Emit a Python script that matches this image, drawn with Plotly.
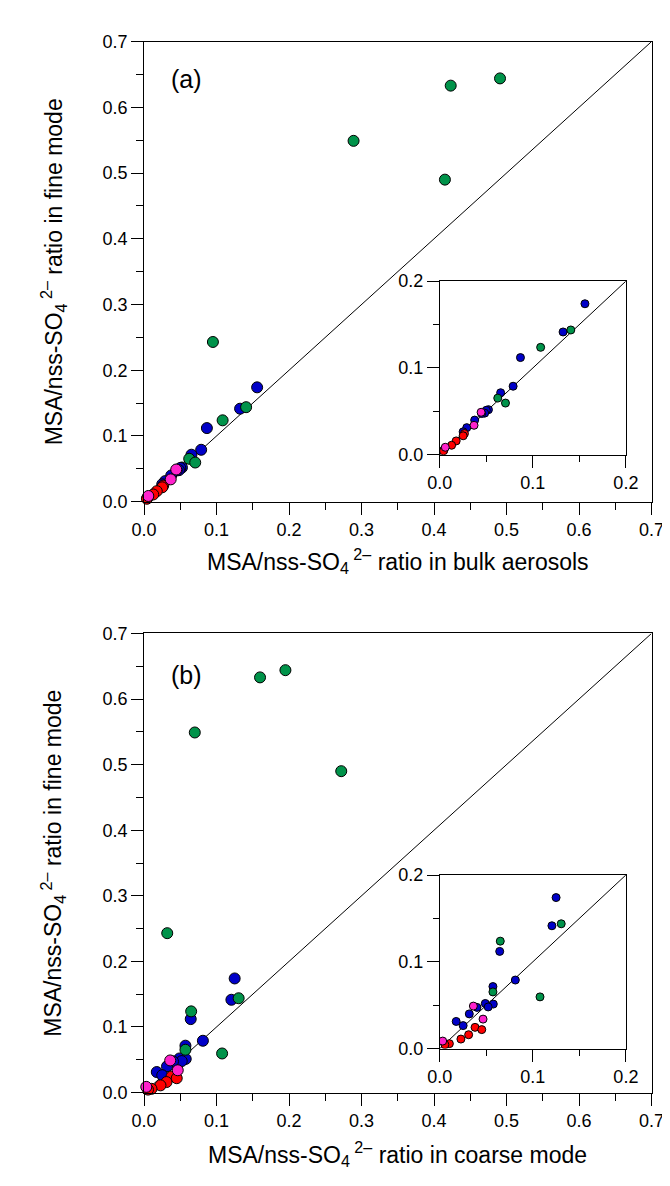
import plotly.graph_objects as go

# ---------------- data (fine-mode ratio shared; bulk -> panel a, coarse -> panel b)
blue_fine   = [0.174, 0.1415, 0.112, 0.079, 0.0715, 0.052, 0.0513, 0.048, 0.0475, 0.040, 0.0313, 0.0265]
blue_bulk   = [0.156, 0.1325, 0.0867, 0.0788, 0.0654, 0.0523, 0.050, 0.0482, 0.045, 0.0375, 0.029, 0.0251]
blue_coarse = [0.125, 0.1205, 0.0644, 0.0812, 0.0571, 0.0489, 0.0575, 0.052, 0.040, 0.0317, 0.0176, 0.0251]

green_fine   = [0.644, 0.633, 0.549, 0.490, 0.243, 0.1438, 0.1238, 0.0653, 0.0596]
green_bulk   = [0.491, 0.423, 0.289, 0.415, 0.095, 0.1408, 0.1084, 0.0623, 0.0706]
green_coarse = [0.195, 0.160, 0.070, 0.272, 0.032, 0.1305, 0.065, 0.0571, 0.1077]

red_fine   = [0.0245, 0.0219, 0.016, 0.011, 0.0057, 0.0045]
red_bulk   = [0.0265, 0.0251, 0.0176, 0.0127, 0.0045, 0.004]
red_coarse = [0.0379, 0.0451, 0.031, 0.0227, 0.0103, 0.0055]

mag_fine   = [0.049, 0.034, 0.0087]
mag_bulk   = [0.0444, 0.0368, 0.0059]
mag_coarse = [0.0361, 0.0465, 0.0031]

main_range = [0, 0.7]
inset_range = [0, 0.2]
tick_labels_main = ["0.0", "0.1", "0.2", "0.3", "0.4", "0.5", "0.6", "0.7"]
tick_labels_inset = ["0.0", "0.1", "0.2"]
panel_labels = ["(a)", "(b)"]
title_y = "MSA/nss-SO<sub>4</sub><sup> 2\u2013</sup> ratio in fine mode"
title_xa = "MSA/nss-SO<sub>4</sub><sup> 2\u2013</sup> ratio in bulk aerosols"
title_xb = "MSA/nss-SO<sub>4</sub><sup> 2\u2013</sup> ratio in coarse mode"

# ---------------- styling
W, H = 670, 1186
FONT = "Arial, Liberation Sans, sans-serif"
colors = {"blue": "#0000C8", "green": "#00934A", "red": "#FF0000", "mag": "#FF22CC"}
groups = [
    ("blue", blue_fine, blue_bulk, blue_coarse),
    ("green", green_fine, green_bulk, green_coarse),
    ("red", red_fine, red_bulk, red_coarse),
    ("mag", mag_fine, mag_bulk, mag_coarse),
]

def px_x(a, b):
    return [a / W, b / W]

def px_y(top, bottom):
    return [1 - bottom / H, 1 - top / H]

main_x = px_x(128, 656)
inset_x = px_x(435.7, 629.3)
dom = {
    1: (main_x, px_y(24, 492)),
    2: (inset_x, px_y(267.7, 444.3)),
    3: (main_x, px_y(626, 1093)),
    4: (inset_x, px_y(871.7, 1048.3)),
}

fig = go.Figure()

def add_panel(n, xi, rng, msize):
    xs = "x" if n == 1 else f"x{n}"
    ys = "y" if n == 1 else f"y{n}"
    fig.add_trace(go.Scatter(x=rng, y=rng, mode="lines", xaxis=xs, yaxis=ys,
                             line=dict(color="black", width=1), showlegend=False,
                             hoverinfo="skip"))
    for name, fine, bulk, coarse in groups:
        xv = bulk if xi == 0 else coarse
        fig.add_trace(go.Scatter(x=xv, y=fine, mode="markers", xaxis=xs, yaxis=ys,
                                 marker=dict(size=msize, color=colors[name],
                                             line=dict(color="black", width=1)),
                                 cliponaxis=(n in (2, 4)), showlegend=False))

add_panel(1, 0, main_range, 11)
add_panel(2, 0, inset_range, 8)
add_panel(3, 1, main_range, 11)
add_panel(4, 1, inset_range, 8)

def axis(n, main):
    rng = main_range if main else inset_range
    labels = tick_labels_main if main else tick_labels_inset
    vals = [round(0.1 * i, 1) for i in range(len(labels))]
    return dict(
        domain=None, range=rng, showgrid=False, zeroline=False,
        showline=True, linecolor="black", linewidth=1, mirror=True,
        ticks="outside", ticklen=12, tickwidth=1, tickcolor="black",
        tickmode="array", tickvals=vals, ticktext=labels,
        tickfont=dict(family=FONT, size=18, color="black"),
        minor=dict(ticks="outside", ticklen=6 if not main else 7, tickwidth=1,
                   tickcolor="black", dtick=0.05, tick0=0, showgrid=False),
        fixedrange=True,
    )

lay = {}
for n, main in [(1, True), (2, False), (3, True), (4, False)]:
    xa = axis(n, main); ya = axis(n, main)
    xa["domain"] = dom[n][0]; ya["domain"] = dom[n][1]
    xa["anchor"] = "y" if n == 1 else f"y{n}"
    ya["anchor"] = "x" if n == 1 else f"x{n}"
    lay["xaxis" if n == 1 else f"xaxis{n}"] = xa
    lay["yaxis" if n == 1 else f"yaxis{n}"] = ya

fig.update_layout(**lay)

ann_font = dict(family=FONT, size=23, color="black")
annotations = [
    dict(text=title_y, x=33 / W, y=1 - 258 / H, textangle=-90),
    dict(text=title_y, x=33 / W, y=1 - 859.5 / H, textangle=-90),
    dict(text=title_xa, x=392 / W, y=1 - 552 / H),
    dict(text=title_xb, x=392 / W, y=1 - 1155 / H),
    dict(text=panel_labels[0], x=172 / W, y=1 - 62 / H, font=dict(family=FONT, size=25, color="black")),
    dict(text=panel_labels[1], x=172 / W, y=1 - 668 / H, font=dict(family=FONT, size=25, color="black")),
]
for a in annotations:
    a.setdefault("font", ann_font)
    a.update(xref="paper", yref="paper", showarrow=False, xanchor="center", yanchor="middle")

fig.update_layout(
    width=W, height=H, margin=dict(l=0, r=0, t=0, b=0),
    paper_bgcolor="white", plot_bgcolor="white",
    annotations=annotations, showlegend=False,
)

fig.write_html("out.html")
